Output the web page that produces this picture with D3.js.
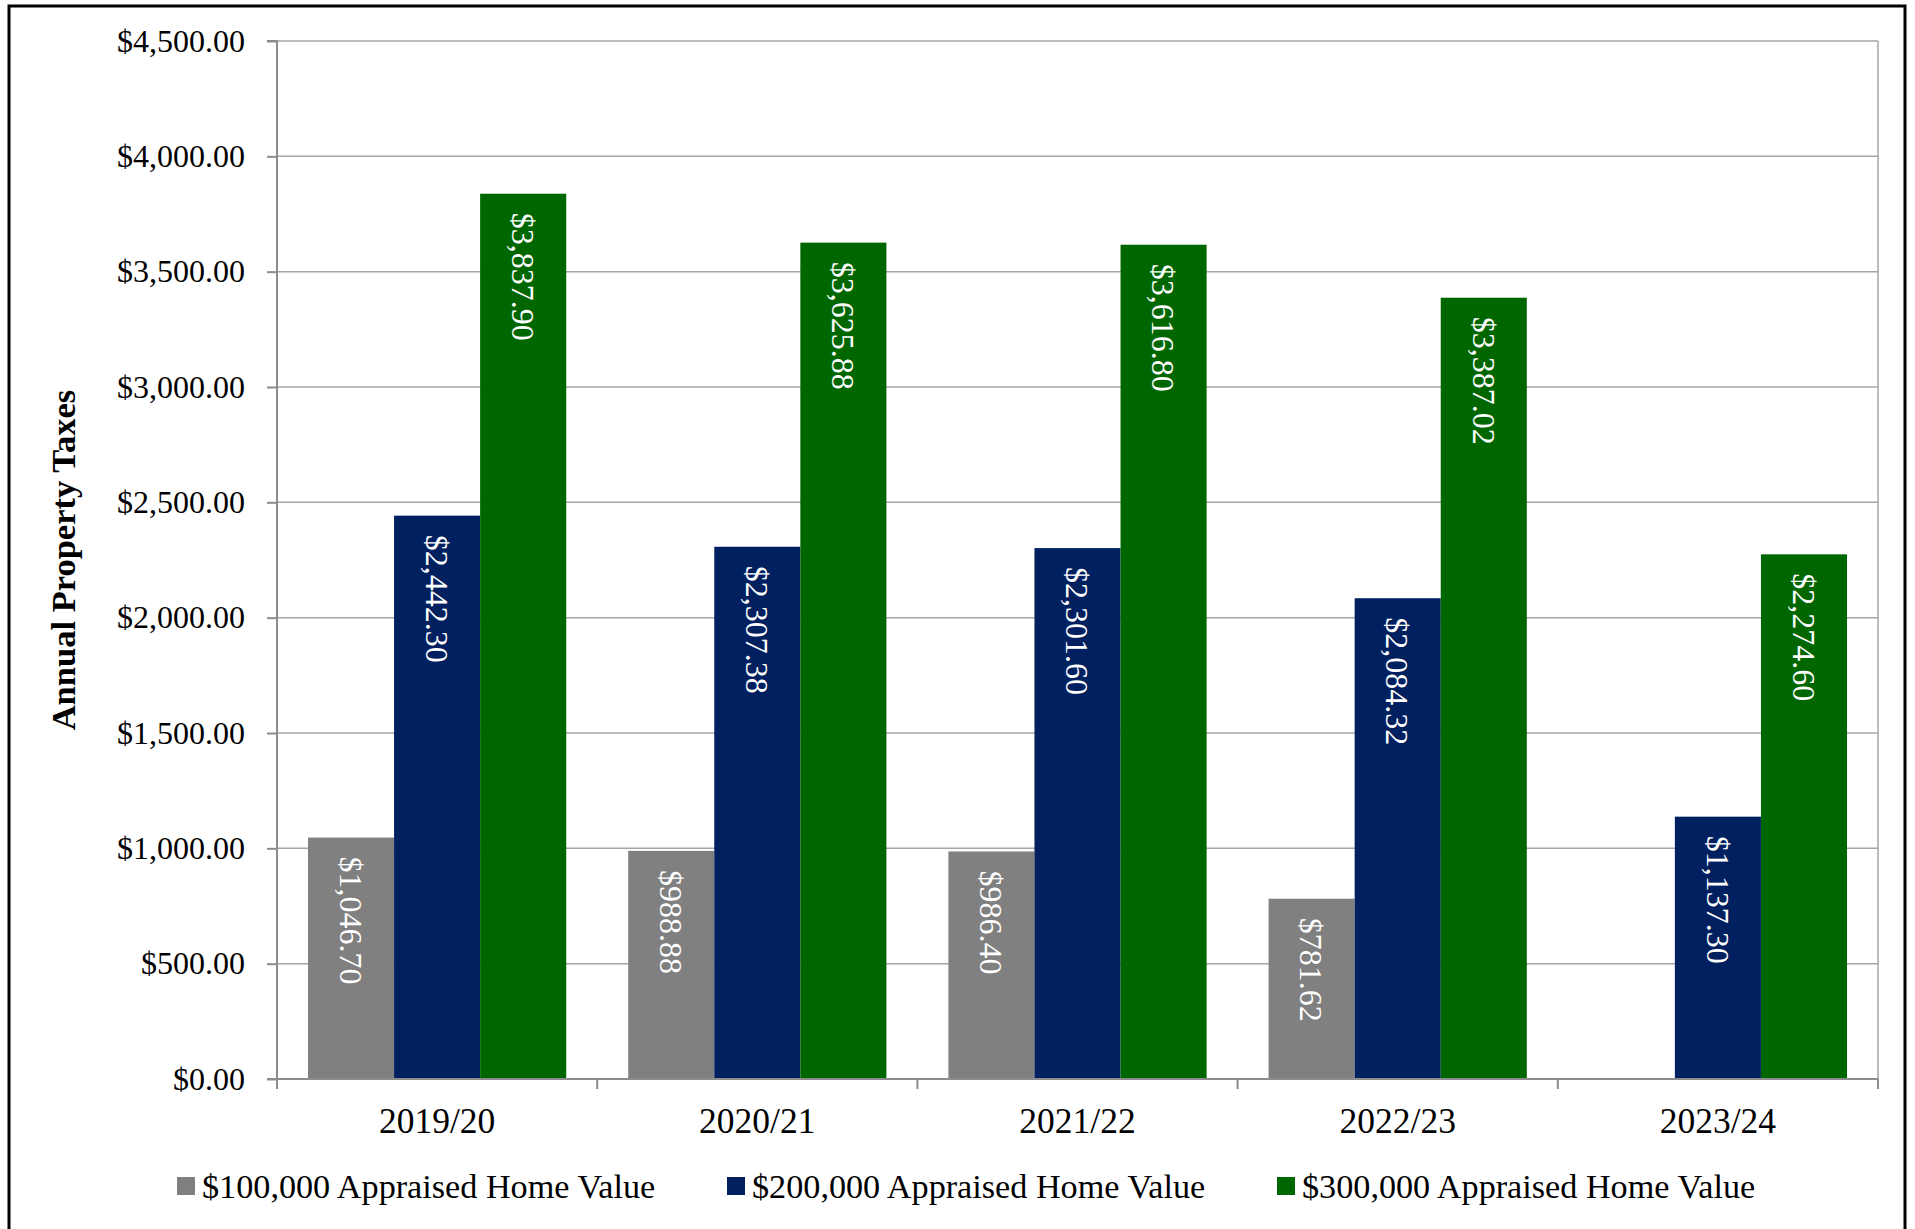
<!DOCTYPE html>
<html>
<head>
<meta charset="utf-8">
<script src="https://cdn.jsdelivr.net/npm/d3@7"></script>
<style>
	body { margin: 0; background: #fff; }
	svg text { font-family: "Liberation Serif", "DejaVu Serif", serif; }
</style>
</head>
<body>
<svg id="chart" width="1915" height="1229"></svg>
<script>
var years = ['2019/20', '2020/21', '2021/22', '2022/23', '2023/24'];
var seriesNames = ['$100,000 Appraised Home Value', '$200,000 Appraised Home Value', '$300,000 Appraised Home Value'];
var home100k = [1046.70, 988.88, 986.40, 781.62, null];
var home200k = [2442.30, 2307.38, 2301.60, 2084.32, 1137.30];
var home300k = [3837.90, 3625.88, 3616.80, 3387.02, 2274.60];
var yTicks = [0, 500, 1000, 1500, 2000, 2500, 3000, 3500, 4000, 4500];
var colors = ['#808080', '#002060', '#006600'];

var svg = d3.select('#chart');
var plotLeft = 277, plotRight = 1878, plotTop = 41, plotBottom = 1079;
var serif = '"Liberation Serif", "Times New Roman", serif';

var series = [home100k, home200k, home300k];
var money = d3.format('$,.2f');

// outer frame
svg.append('rect')
	.attr('x', 9).attr('y', 6)
	.attr('width', 1896).attr('height', 1240)
	.attr('fill', 'none').attr('stroke', '#000').attr('stroke-width', 3);

var x0 = d3.scaleBand().domain(years).range([plotLeft, plotRight]);
var x1 = d3.scaleBand().domain(d3.range(series.length))
	.range([0, x0.bandwidth()]).paddingOuter(0.36);
var y = d3.scaleLinear().domain([0, 4500]).range([plotBottom, plotTop]);

// gridlines
svg.append('g').selectAll('line')
	.data(yTicks.slice(1))
	.enter().append('line')
	.attr('x1', plotLeft).attr('x2', plotRight)
	.attr('y1', function(d) { return y(d); })
	.attr('y2', function(d) { return y(d); })
	.attr('stroke', '#a6a6a6').attr('stroke-width', 1.5);

svg.append('line')
	.attr('x1', plotRight).attr('x2', plotRight).attr('y1', plotTop).attr('y2', plotBottom)
	.attr('stroke', '#a6a6a6').attr('stroke-width', 1.5);

// bars
var groups = svg.append('g').selectAll('g')
	.data(years)
	.enter().append('g')
	.attr('transform', function(d) { return 'translate(' + x0(d) + ',0)'; });

var cells = groups.selectAll('g')
	.data(function(d, i) {
		return series.map(function(s, k) { return {k: k, v: s[i]}; })
			.filter(function(e) { return e.v != null; });
	})
	.enter().append('g');

cells.append('rect')
	.attr('x', function(d) { return x1(d.k); })
	.attr('width', x1.bandwidth())
	.attr('y', function(d) { return y(d.v); })
	.attr('height', function(d) { return plotBottom - y(d.v); })
	.attr('fill', function(d) { return colors[d.k]; });

cells.append('text')
	.attr('transform', function(d) {
		return 'translate(' + (x1(d.k) + x1.bandwidth() / 2) + ',' + (y(d.v) + 19) + ') rotate(90)';
	})
	.attr('dy', '0.35em')
	.attr('fill', '#fff')
	.style('font-family', serif)
	.style('font-size', '32px')
	.text(function(d) { return money(d.v); });

// axes
var yAxis = svg.append('g')
	.attr('transform', 'translate(' + plotLeft + ',0)')
	.call(d3.axisLeft(y).tickValues(yTicks).tickSize(10).tickPadding(22).tickFormat(money));

var xAxis = svg.append('g')
	.attr('transform', 'translate(0,' + plotBottom + ')')
	.call(d3.axisBottom(x0).tickSize(0).tickPadding(29));

xAxis.selectAll('.tick').append('line')
	.attr('x1', -x0.bandwidth() / 2).attr('x2', -x0.bandwidth() / 2)
	.attr('y1', 0).attr('y2', 10);
xAxis.append('line')
	.attr('x1', plotRight).attr('x2', plotRight).attr('y1', 0).attr('y2', 10);

[yAxis, xAxis].forEach(function(a) {
	a.select('.domain').attr('stroke', '#8c8c8c').attr('stroke-width', 2);
	a.selectAll('line').attr('stroke', '#8c8c8c').attr('stroke-width', 2);
	a.selectAll('text').attr('fill', '#000').style('font-family', serif);
});
yAxis.selectAll('text').style('font-size', '32px');
xAxis.selectAll('text').style('font-size', '35.5px');
yAxis.select('.domain').attr('d', 'M-10,' + plotTop + 'H0V' + plotBottom + 'H-10');
xAxis.select('.domain').attr('d', 'M' + plotLeft + ',0H' + plotRight);

// y title
svg.append('text')
	.attr('transform', 'translate(63,' + ((plotTop + plotBottom) / 2) + ') rotate(-90)')
	.attr('text-anchor', 'middle')
	.attr('dy', '0.35em')
	.style('font-family', serif)
	.style('font-size', '34.5px')
	.attr('font-weight', 'bold')
	.text('Annual Property Taxes');

// legend
var legend = svg.append('g').selectAll('g')
	.data(seriesNames)
	.enter().append('g')
	.attr('transform', function(d, i) { return 'translate(' + (177 + i * 550) + ',1177)'; });

legend.append('rect')
	.attr('width', 18).attr('height', 18)
	.attr('fill', function(d, i) { return colors[i]; });

legend.append('text')
	.attr('x', 25).attr('y', 9).attr('dy', '0.35em')
	.style('font-family', serif)
	.style('font-size', '34.2px')
	.text(function(d) { return d; });
</script>
</body>
</html>
